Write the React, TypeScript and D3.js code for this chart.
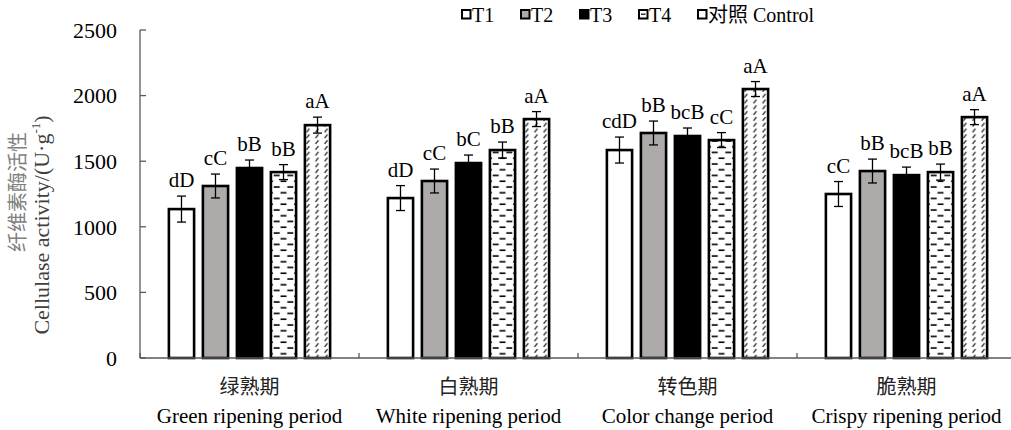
import React from "react";
import * as d3 from "d3";

const periodsCn = ["绿熟期", "白熟期", "转色期", "脆熟期"];
const periodsEn = ["Green ripening period", "White ripening period", "Color change period", "Crispy ripening period"];
const series = ["T1", "T2", "T3", "T4", "对照 Control"];

// values per series, one entry per period
const t1 = [1135, 1219, 1585, 1250];
const t2 = [1311, 1349, 1715, 1425];
const t3 = [1448, 1486, 1692, 1394];
const t4 = [1417, 1585, 1661, 1417];
const ck = [1775, 1821, 2050, 1836];

const t1Err = [99, 95, 99, 95];
const t2Err = [91, 91, 91, 91];
const t3Err = [61, 61, 61, 61];
const t4Err = [57, 61, 57, 61];
const ckErr = [61, 57, 57, 57];

const t1Sig = ["dD", "dD", "cdD", "cC"];
const t2Sig = ["cC", "cC", "bB", "bB"];
const t3Sig = ["bB", "bC", "bcB", "bcB"];
const t4Sig = ["bB", "bB", "cC", "bB"];
const ckSig = ["aA", "aA", "aA", "aA"];

const yTicks = [0, 500, 1000, 1500, 2000, 2500];

const W = 1011;
const H = 430;
const serif = "'Liberation Serif', 'Times New Roman', 'Noto Sans CJK SC', serif";
const cjk = "'Noto Sans CJK SC', sans-serif";
const axisColor = "#595959";

const fills = ["#ffffff", "#aeaaaa", "#000000", "url(#dash)", "url(#slash)"];

export default function App() {
  const y = d3.scaleLinear().domain([0, 2500]).range([358, 30]);
  const x0 = d3.scaleBand().domain(periodsCn).range([140, 1016]);
  const x1 = d3
    .scaleBand()
    .domain(series)
    .range([0, x0.bandwidth()])
    .paddingInner(0.2)
    .paddingOuter(0.82);

  const vals = [t1, t2, t3, t4, ck];
  const errs = [t1Err, t2Err, t3Err, t4Err, ckErr];
  const sigs = [t1Sig, t2Sig, t3Sig, t4Sig, ckSig];
  const bw = x1.bandwidth();

  const bars = [];
  periodsCn.forEach((p, i) => {
    series.forEach((s, j) => {
      const bx = x0(p) + x1(s);
      bars.push({ key: p + s, bx, v: vals[j][i], e: errs[j][i], sig: sigs[j][i], fill: fills[j] });
    });
  });

  return (
    <svg width={W} height={H} style={{ position: "absolute", left: 0, top: 0, background: "#fff" }}>
      <defs>
        <pattern id="dash" patternUnits="userSpaceOnUse" width={bw / 2} height={11.5}>
          <rect width={bw / 2} height={11.5} fill="#fff" />
          <line x1={bw / 4 - 3} x2={bw / 4 + 3} y1={3} y2={3} stroke="#000" strokeWidth={1.6} />
          <line x1={-3} x2={3} y1={8.8} y2={8.8} stroke="#000" strokeWidth={1.6} />
          <line x1={bw / 2 - 3} x2={bw / 2 + 3} y1={8.8} y2={8.8} stroke="#000" strokeWidth={1.6} />
        </pattern>
        <pattern id="slash" patternUnits="userSpaceOnUse" width={bw / 3} height={5.8}>
          <rect width={bw / 3} height={5.8} fill="#fff" />
          <line x1={2.5} x2={5.5} y1={4.6} y2={1.2} stroke="#000" strokeWidth={1.1} />
        </pattern>
      </defs>

      {/* legend */}
      <g fontFamily={serif} fontSize={20}>
        {series.map((s, j) => {
          const lx = 461 + j * 59;
          return (
            <g key={s} transform={`translate(${lx},0)`}>
              <rect x={1} y={10} width={8.5} height={8.5} fill={j >= 3 ? "#fff" : fills[j]} stroke="#000" strokeWidth={2} />
              {j === 3 && <line x1={3} x2={7.5} y1={14.2} y2={14.2} stroke="#000" strokeWidth={1.2} />}
              <text x={11} y={22}>{s}</text>
            </g>
          );
        })}
      </g>

      {/* y axis */}
      <line x1={140} x2={140} y1={y(2500)} y2={y(0)} stroke={axisColor} strokeWidth={1.3} />
      {yTicks.map((t) => (
        <g key={t}>
          <line x1={140} x2={146} y1={y(t)} y2={y(t)} stroke={axisColor} strokeWidth={1.3} />
          <text x={117} y={y(t)} dy="0.35em" textAnchor="end" fontFamily={serif} fontSize={22}>
            {t}
          </text>
        </g>
      ))}

      {/* y title */}
      <text transform="translate(25,192) rotate(-90)" textAnchor="middle" fontFamily={cjk} fontSize={20} fill="#7f7f7f">
        纤维素酶活性
      </text>
      <text transform="translate(49,225) rotate(-90)" textAnchor="middle" fontFamily={serif} fontSize={22} fill="#404040">
        Cellulase activity/(U·g
        <tspan fontSize={13} dy={-9}>-1</tspan>
        <tspan dy={9}>)</tspan>
      </text>

      {/* bars */}
      {bars.map((b) => {
        const top = y(b.v);
        const cx = bw / 2;
        return (
          <g key={b.key} transform={`translate(${b.bx},0)`}>
            <rect x={1} y={top} width={bw - 2} height={y(0) - top} fill={b.fill} stroke="#000" strokeWidth={2.6} />
            <line x1={cx} x2={cx} y1={y(b.v + b.e)} y2={y(b.v - b.e)} stroke="#000" strokeWidth={1.3} />
            <line x1={cx - 4.5} x2={cx + 4.5} y1={y(b.v + b.e)} y2={y(b.v + b.e)} stroke="#000" strokeWidth={1.3} />
            <line x1={cx - 4.5} x2={cx + 4.5} y1={y(b.v - b.e)} y2={y(b.v - b.e)} stroke="#000" strokeWidth={1.3} />
            <text x={cx} y={y(b.v + b.e) - 9} textAnchor="middle" fontFamily={serif} fontSize={21}>
              {b.sig}
            </text>
          </g>
        );
      })}

      {/* x axis */}
      <line x1={140} x2={1016} y1={y(0)} y2={y(0)} stroke={axisColor} strokeWidth={1.5} />
      {periodsCn.map((p) => (
        <line key={p} x1={x0(p)} x2={x0(p)} y1={y(0)} y2={y(0) - 5} stroke={axisColor} strokeWidth={1.3} />
      ))}
      {periodsCn.map((p, i) => (
        <g key={p} fontFamily={serif} fontSize={21} textAnchor="middle">
          <text x={x0(p) + x0.bandwidth() / 2} y={394} fontFamily={cjk} fontSize={20} fill="#222">
            {p}
          </text>
          <text x={x0(p) + x0.bandwidth() / 2} y={423}>
            {periodsEn[i]}
          </text>
        </g>
      ))}
    </svg>
  );
}
